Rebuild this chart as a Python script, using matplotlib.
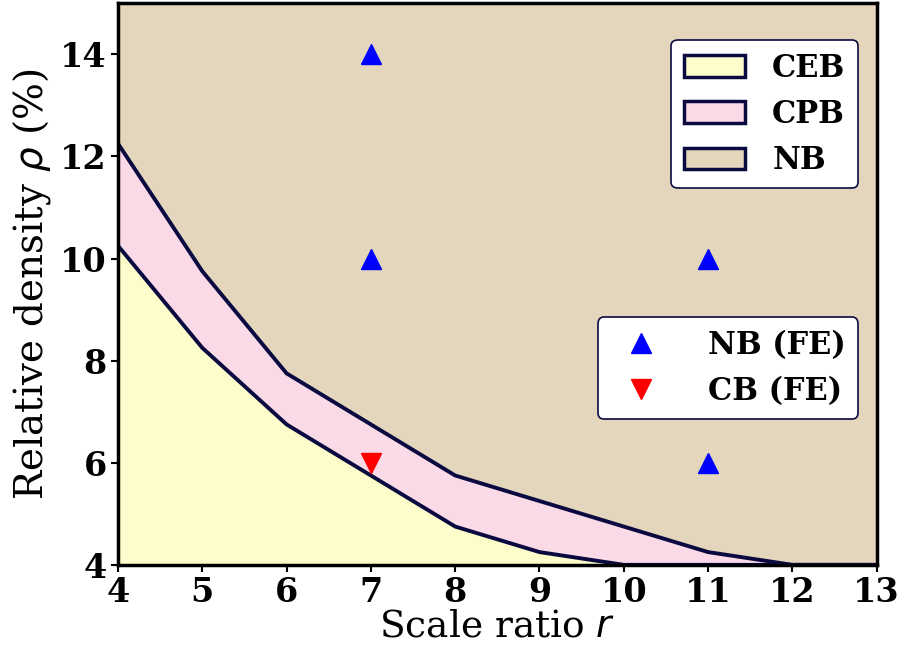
import matplotlib
matplotlib.use("Agg")
import matplotlib.pyplot as plt
from matplotlib.patches import Patch
from matplotlib.lines import Line2D

r = [4, 5, 6, 7, 8, 9, 10, 11, 12, 13]
ceb_upper = [10.25, 8.25, 6.75, 5.75, 4.75, 4.25, 4.0, 4.0, 4.0, 4.0]
cpb_upper = [12.25, 9.75, 7.75, 6.75, 5.75, 5.25, 4.75, 4.25, 4.0, 4.0]
nb_fe_r = [7, 7, 11, 11]
nb_fe_rho = [14, 10, 10, 6]
cb_fe_r = [7]
cb_fe_rho = [6]
ymin, ymax = 4, 15

c_ceb = "#fdfdcc"
c_cpb = "#fbdae8"
c_nb = "#e3d6bc"
c_line = "#0a0a40"

plt.rcParams['font.family'] = ['DejaVu Serif']
fig = plt.figure(figsize=(9.01, 6.5), dpi=100)
ax = fig.add_axes([0.131, 0.131, 0.842, 0.864])

ax.fill_between(r, ymin, ceb_upper, color=c_ceb, lw=0)
ax.fill_between(r, ceb_upper, cpb_upper, color=c_cpb, lw=0)
ax.fill_between(r, cpb_upper, ymax, color=c_nb, lw=0)
ax.plot(r, ceb_upper, color=c_line, lw=2.8)
ax.plot(r, cpb_upper, color=c_line, lw=2.8)

ax.plot(nb_fe_r, nb_fe_rho, '^', color='blue', ms=14, ls='none')
ax.plot(cb_fe_r, cb_fe_rho, 'v', color='red', ms=14, ls='none')

ax.set_xlim(4, 13)
ax.set_ylim(ymin, ymax)
ax.set_xticks(range(4, 14))
ax.set_yticks([4, 6, 8, 10, 12, 14])
for lab in ax.get_xticklabels() + ax.get_yticklabels():
    lab.set_fontweight('bold')
    lab.set_fontsize(24)
ax.tick_params(width=1.5, length=5, pad=3)
for s in ax.spines.values():
    s.set_linewidth(2.5)

ax.set_xlabel(r"Scale ratio $r$", fontsize=27, labelpad=0)
ax.set_ylabel(r"Relative density $\rho$ (%)", fontsize=28, labelpad=5)

h1 = [Patch(facecolor=c_ceb, edgecolor=c_line, lw=2.5, label='CEB'),
      Patch(facecolor=c_cpb, edgecolor=c_line, lw=2.5, label='CPB'),
      Patch(facecolor=c_nb, edgecolor=c_line, lw=2.5, label='NB')]
leg1 = ax.legend(handles=h1, loc='upper right', bbox_to_anchor=(0.975, 0.934),
                 prop={'weight': 'bold', 'size': 22}, framealpha=1,
                 edgecolor=c_line, handlelength=2.0, handletextpad=0.9,
                 borderaxespad=0)
leg1.get_frame().set_linewidth(1.2)
ax.add_artist(leg1)

h2 = [Line2D([], [], marker='^', color='blue', ls='none', ms=14, label='NB (FE)'),
      Line2D([], [], marker='v', color='red', ls='none', ms=14, label='CB (FE)')]
leg2 = ax.legend(handles=h2, loc='center right', bbox_to_anchor=(0.975, 0.35),
                 prop={'weight': 'bold', 'size': 22}, framealpha=1,
                 edgecolor=c_line, handlelength=2.0, handletextpad=1.2,
                 borderaxespad=0)
leg2.get_frame().set_linewidth(1.2)

fig.savefig("out.png", dpi=100)
